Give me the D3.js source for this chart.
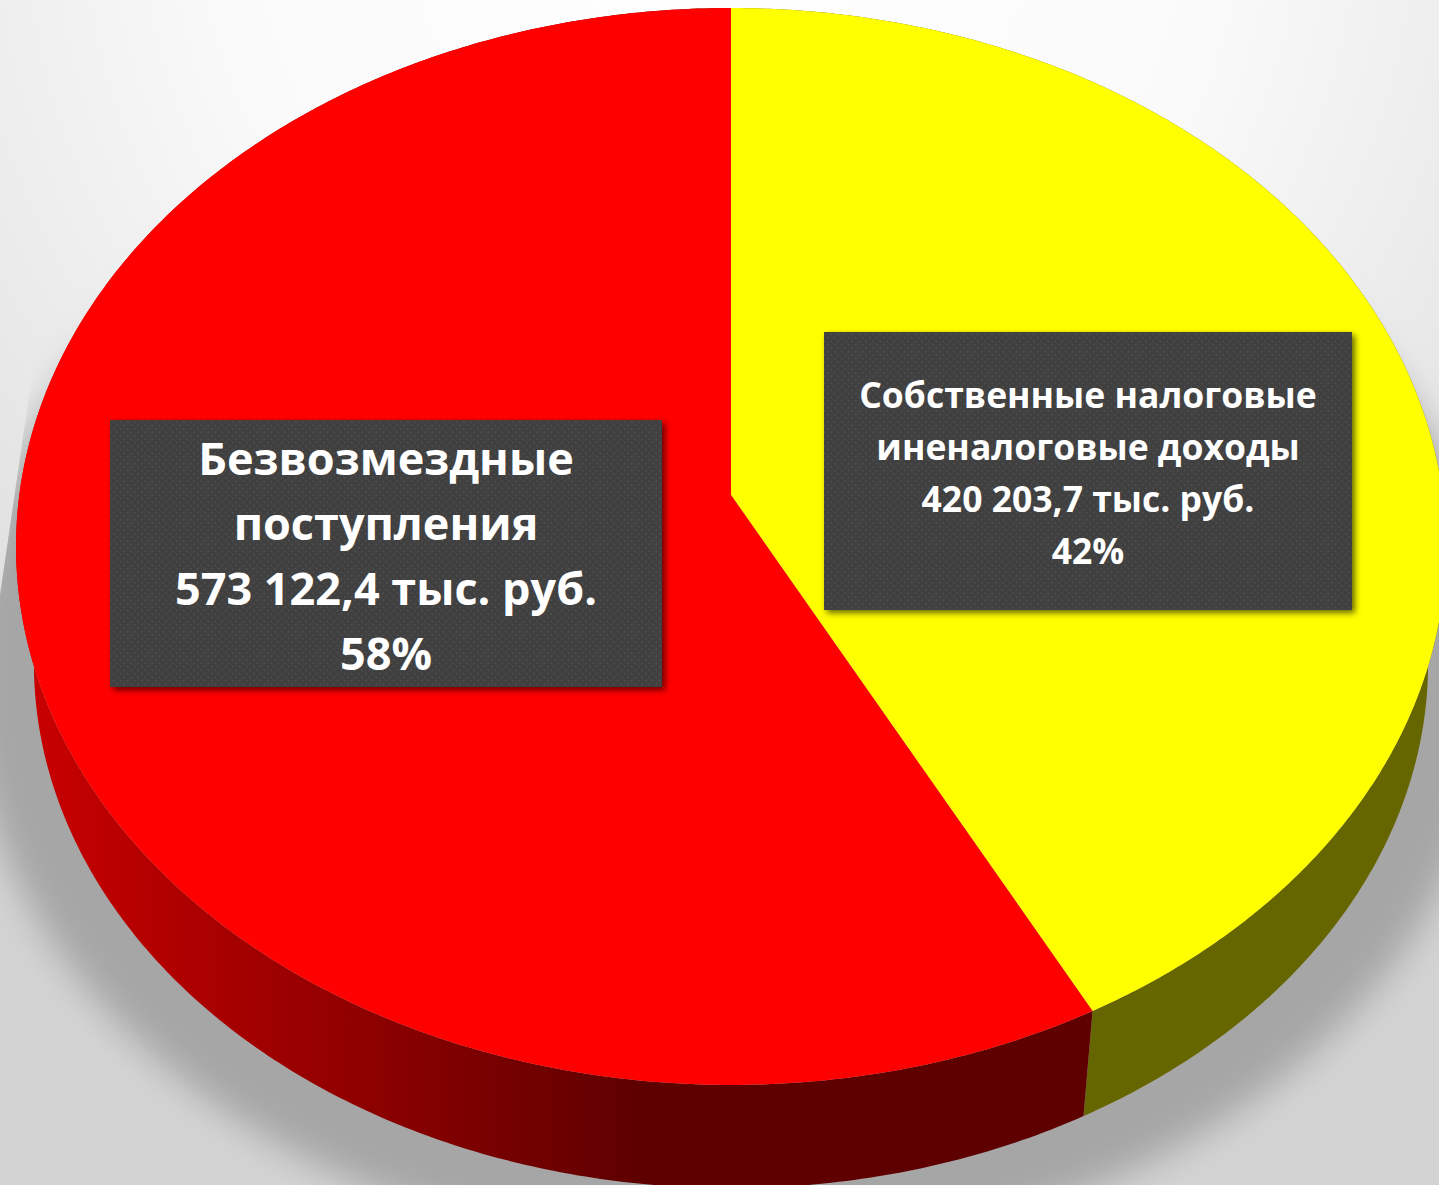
<!DOCTYPE html>
<html>
<head>
<meta charset="utf-8">
<script src="https://cdn.jsdelivr.net/npm/d3@7"></script>
<style>
  html, body { margin: 0; padding: 0; background: #fff; overflow: hidden; }
  svg { display: block; }
</style>
</head>
<body>
<div id="chart"></div>
<script>
const categories = ["own", "free"];
const values = [420203.7, 573122.4];
const ownLabel = ["Собственные налоговые", "иненалоговые доходы", "420 203,7 тыс. руб.", "42%"];
const freeLabel = ["Безвозмездные", "поступления", "573 122,4 тыс. руб.", "58%"];

const drawPie = () => {

  /* constants */
  const width = 1439;
  const height = 1185;
  const cx = 731;
  const apexY = 495;
  const radiusX = 711.7;   // perspective disc, top and bottom rims of the ellipse at y=8 and y=1085
  const radiusY = 486.2;
  const tilt = -0.0956;
  const vanishY = 5215;    // vertical edges of the wall meet here
  const wallScale = 0.975;

  const faceColour = d3.scaleOrdinal().domain(categories).range(["#ffff00", "#ff0000"]);
  const wallColour = d3.scaleOrdinal().domain(categories).range(["#666600", "url(#redWall)"]);

  const svg = d3.select("#chart")
    .append("svg")
      .attr("width", width)
      .attr("height", height)
      .attr("viewBox", `0 0 ${width} ${height}`);

  /* defs */
  const defs = svg.append("defs");

  const bg = defs.append("radialGradient")
    .attr("id", "bg")
    .attr("gradientUnits", "userSpaceOnUse")
    .attr("cx", 720).attr("cy", -100).attr("r", 1250);
  bg.append("stop").attr("offset", "0%").attr("stop-color", "#ffffff");
  bg.append("stop").attr("offset", "40%").attr("stop-color", "#fafafa");
  bg.append("stop").attr("offset", "100%").attr("stop-color", "#d3d3d3");

  const redWall = defs.append("linearGradient")
    .attr("id", "redWall")
    .attr("gradientUnits", "userSpaceOnUse")
    .attr("x1", 34).attr("y1", 0).attr("x2", 640).attr("y2", 0);
  redWall.append("stop").attr("offset", "0%").attr("stop-color", "#c80000");
  redWall.append("stop").attr("offset", "100%").attr("stop-color", "#5e0000");

  defs.append("filter").attr("id", "shadowBlur")
    .attr("x", "-10%").attr("y", "-10%").attr("width", "120%").attr("height", "120%")
    .append("feGaussianBlur").attr("stdDeviation", 18);

  const boxShadow = defs.append("filter").attr("id", "boxShadow")
    .attr("x", "-5%").attr("y", "-5%").attr("width", "110%").attr("height", "115%");
  boxShadow.append("feDropShadow")
    .attr("dx", 3).attr("dy", 3).attr("stdDeviation", 3)
    .attr("flood-color", "#000").attr("flood-opacity", 0.6);

  const dots = defs.append("pattern")
    .attr("id", "dots")
    .attr("patternUnits", "userSpaceOnUse")
    .attr("width", 7).attr("height", 7);
  dots.append("rect").attr("width", 7).attr("height", 7).attr("fill", "#3f3f3f");
  dots.append("circle").attr("cx", 1.75).attr("cy", 1.75).attr("r", 1.1).attr("fill", "#4e4e4e");
  dots.append("circle").attr("cx", 5.25).attr("cy", 5.25).attr("r", 1.1).attr("fill", "#4e4e4e");

  // the shadow has a hard diagonal edge at the far left, hidden under the pie higher up
  defs.append("clipPath").attr("id", "shadowClip")
    .append("path")
    .attr("d", `M72,100 L0,595 L0,${height} L${width},${height} L${width},100 Z`);

  /* background */
  svg.append("rect")
    .attr("width", width)
    .attr("height", height)
    .attr("fill", "url(#bg)");

  svg.append("g")
      .attr("clip-path", "url(#shadowClip)")
    .append("ellipse")
      .attr("cx", cx)
      .attr("cy", 672)
      .attr("rx", 765)
      .attr("ry", 585)
      .attr("fill", "#a6a6a6")
      .attr("filter", "url(#shadowBlur)");

  /* projection of the tilted disc */
  const project = (angle, r) => {
    const u = r * Math.sin(angle);
    const v = -r * Math.cos(angle);
    const w = 1 + tilt * v;
    return [cx + radiusX * u / w, (radiusY * v + apexY) / w];
  };
  const lower = ([x, y]) => [cx + (x - cx) * wallScale, vanishY + (y - vanishY) * wallScale];

  const rimPoints = (d) => {
    const step = (d.endAngle - d.startAngle) / 360;
    return d3.range(361).map(i => project(d.startAngle + i * step, 1));
  };

  const pie = d3.pie().sort(null).value(d => d.value);
  const slices = pie(categories.map((c, i) => ({ category: c, value: values[i] })));
  const line = d3.line().curve(d3.curveLinear);

  /* wall first, top face goes over it */
  svg.selectAll(".wall")
    .data(slices)
    .join("path")
      .attr("class", "wall")
      .attr("d", d => {
        const rim = rimPoints(d);
        return line(rim.concat(rim.map(lower).reverse())) + "Z";
      })
      .attr("fill", d => wallColour(d.data.category));

  svg.selectAll(".face")
    .data(slices)
    .join("path")
      .attr("class", "face")
      .attr("d", d => line([project(0, 0)].concat(rimPoints(d))) + "Z")
      .attr("fill", d => faceColour(d.data.category));

  /* labels */
  const drawLabel = (lines, x, y, w, h, firstBaseline, lineHeight, fontSize) => {
    const g = svg.append("g");
    g.append("rect")
      .attr("x", x).attr("y", y)
      .attr("width", w).attr("height", h)
      .attr("fill", "url(#dots)")
      .attr("filter", "url(#boxShadow)");
    g.selectAll("text")
      .data(lines)
      .join("text")
        .text(d => d)
        .attr("x", x + w / 2)
        .attr("y", (d, i) => firstBaseline + i * lineHeight)
        .attr("text-anchor", "middle")
        .attr("font-family", "'Open Sans', sans-serif")
        .attr("font-weight", 700)
        .attr("font-size", fontSize)
        .attr("fill", "#ffffff");
  };

  drawLabel(ownLabel, 824, 332, 528, 278, 408, 52, 35.5);
  drawLabel(freeLabel, 110, 420, 552, 267, 475, 65, 45);
};

drawPie();
</script>
</body>
</html>
